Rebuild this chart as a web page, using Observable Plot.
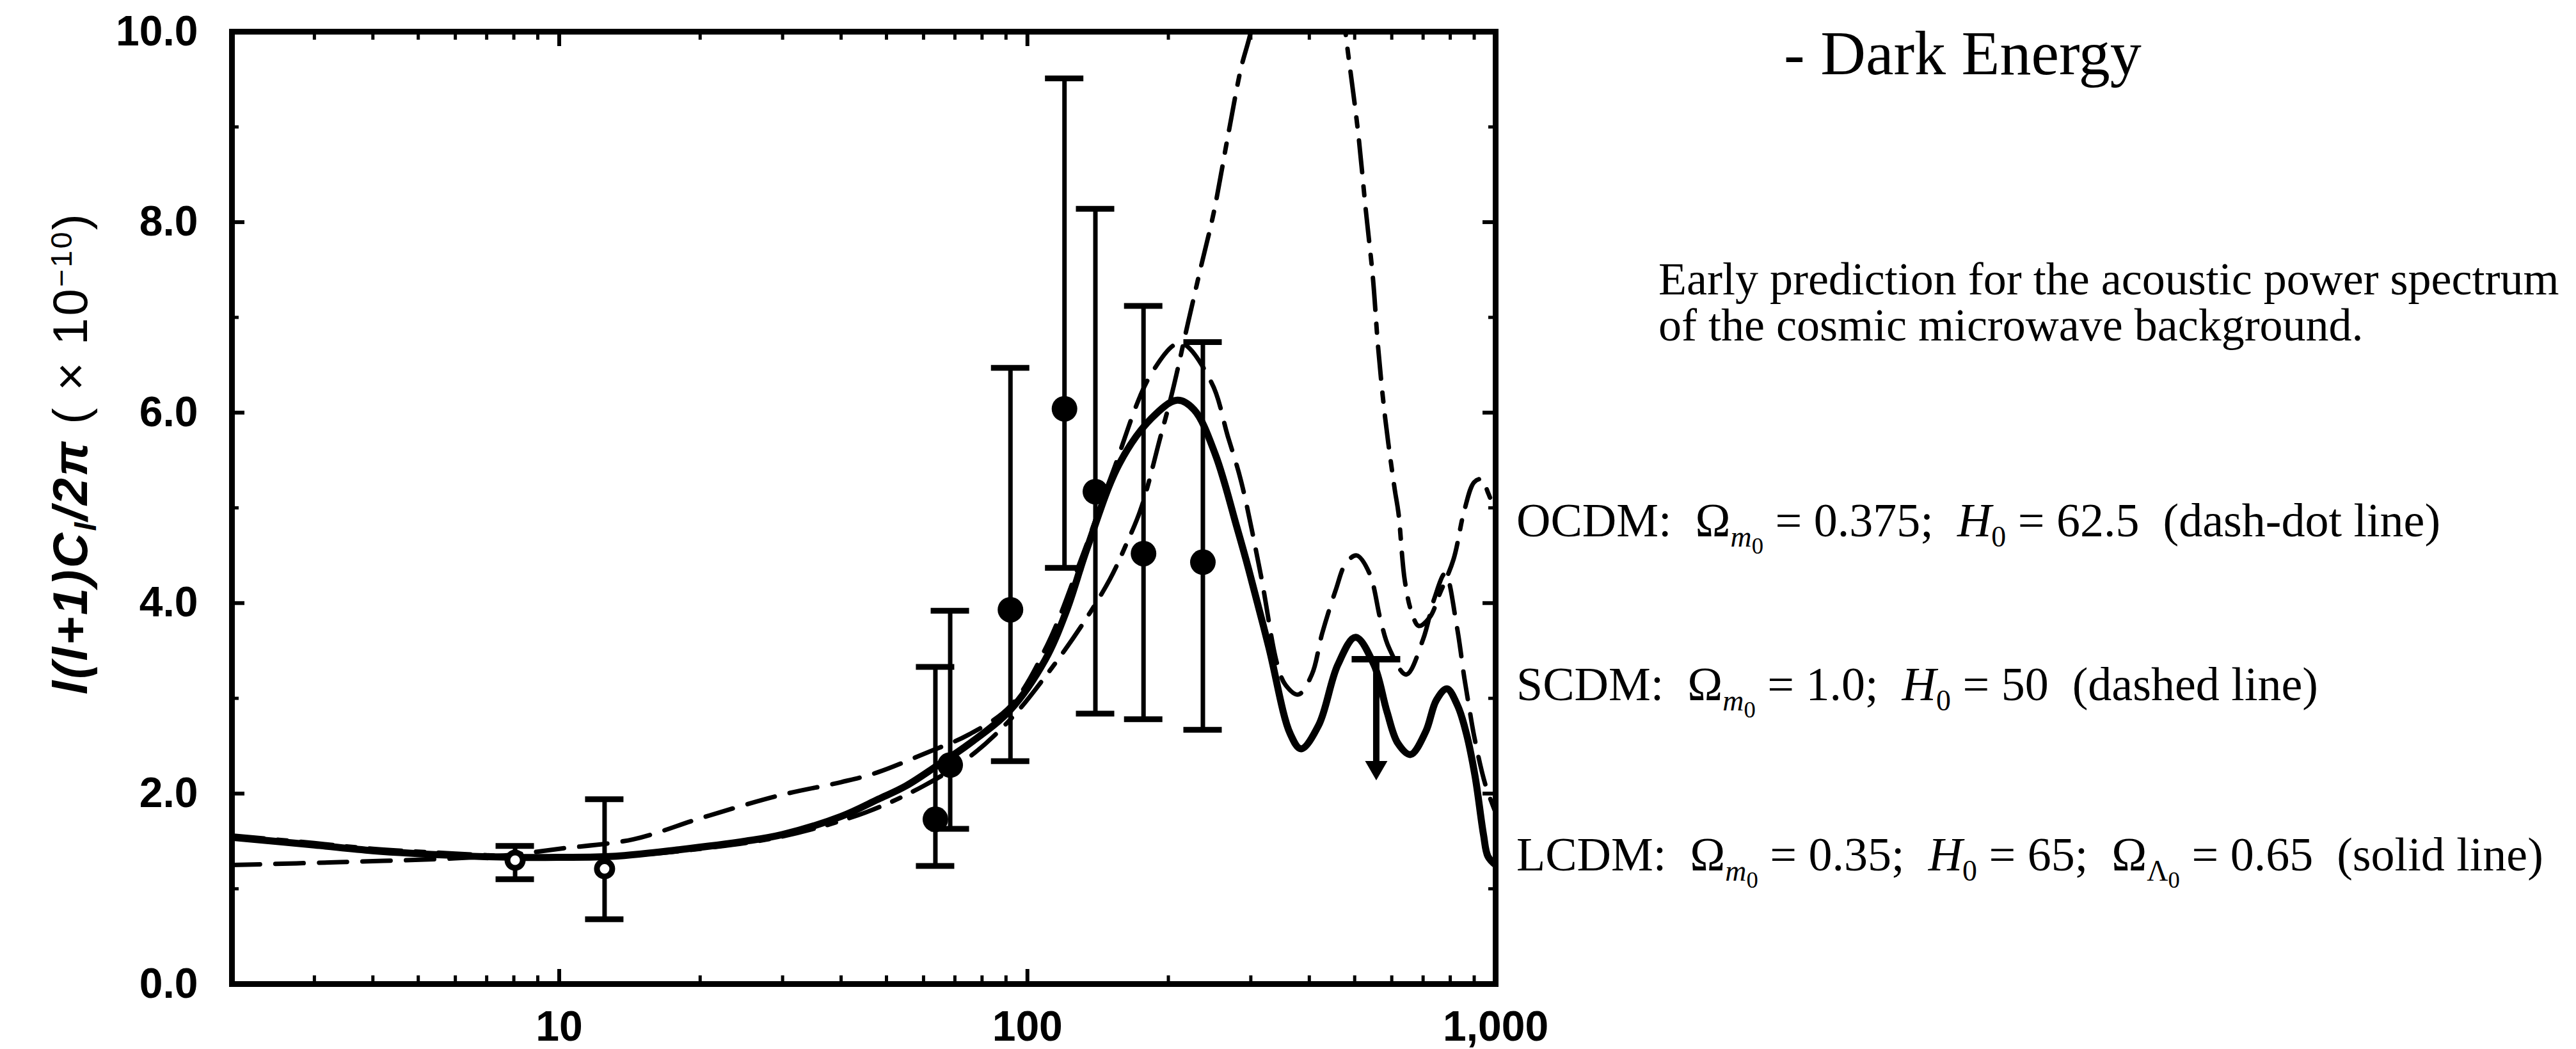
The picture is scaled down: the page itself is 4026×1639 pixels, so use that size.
<!DOCTYPE html>
<html>
<head>
<meta charset="utf-8">
<script src="https://cdn.jsdelivr.net/npm/d3@7"></script>
<script src="https://cdn.jsdelivr.net/npm/@observablehq/plot@0.6"></script>
<style>
html,body{margin:0;padding:0;background:#fff;}
#wrap{position:relative;width:4026px;height:1639px;overflow:hidden;background:#fff;}
#wrap svg{position:absolute;left:0;top:0;}
.t{position:absolute;white-space:nowrap;font-family:"Liberation Serif",serif;color:#000;line-height:1;}
.t sub{font-size:0.62em;vertical-align:-0.34em;line-height:0;}
.t sub sub{font-size:0.8em;vertical-align:-0.3em;}
.ylab{position:absolute;white-space:nowrap;font-family:"Liberation Sans",Arial,sans-serif;font-weight:bold;font-style:italic;color:#000;line-height:1;transform:translate(-50%,-50%) rotate(-90deg);}
.ylab sub{font-size:0.62em;vertical-align:-0.3em;line-height:0;}
.ylab sup{font-size:0.62em;vertical-align:0.5em;line-height:0;}
</style>
</head>
<body>
<div id="wrap"></div>
<script>
// ---------------- data ----------------
// LCDM (solid line)
const lcdmL = [2, 3, 4, 6, 8, 10, 13, 18, 25, 30, 40, 48, 55, 64, 75, 92, 109, 121, 134, 157, 184, 209, 227, 252, 280, 297, 328, 364, 384, 419, 460, 502, 550, 586, 618, 658, 709, 747, 787, 830, 866, 904, 942, 963, 1000];
const lcdmV = [1.54, 1.46, 1.40, 1.35, 1.33, 1.33, 1.34, 1.41, 1.50, 1.57, 1.76, 1.94, 2.08, 2.29, 2.52, 2.88, 3.40, 3.91, 4.57, 5.46, 5.94, 6.13, 6.03, 5.56, 4.80, 4.35, 3.53, 2.63, 2.47, 2.72, 3.35, 3.64, 3.35, 2.86, 2.53, 2.41, 2.65, 2.98, 3.10, 2.92, 2.63, 2.18, 1.57, 1.34, 1.25];
// SCDM (dashed line)
const scdmL = [2, 3.4, 6, 8, 10, 14.4, 20, 29.5, 40, 47.7, 61, 75, 92, 110, 130, 152, 184, 212, 247, 268, 286, 315, 342, 356, 379, 405, 426, 455, 479, 505, 538, 568, 592, 644, 700, 740, 780, 826, 857, 877, 900, 950, 1000];
const scdmV = [1.25, 1.28, 1.32, 1.36, 1.42, 1.52, 1.74, 1.98, 2.12, 2.22, 2.43, 2.62, 2.92, 3.55, 4.45, 5.37, 6.41, 6.73, 6.32, 5.75, 5.28, 4.30, 3.35, 3.14, 3.04, 3.25, 3.68, 4.13, 4.42, 4.50, 4.31, 3.82, 3.53, 3.25, 3.62, 4.05, 4.31, 3.76, 3.22, 2.92, 2.60, 2.10, 1.80];
// OCDM (dash-dot line); NaN marks the part above the plotted range
const ocdmL = [2, 3, 4, 6, 8, 10, 15, 20, 30, 45, 60, 75, 92, 110, 130, 150, 162, 175, 192, 204, 220, 235, 250, 268, 286, 300, 306, 380, 470, 479, 508, 528, 547, 561, 581, 609, 620, 640, 662, 685, 723, 760, 813, 857, 900, 933, 965, 1000];
const ocdmV = [1.56, 1.48, 1.42, 1.37, 1.34, 1.33, 1.36, 1.42, 1.55, 1.80, 2.08, 2.38, 2.78, 3.25, 3.75, 4.25, 4.60, 5.00, 5.73, 6.22, 6.93, 7.54, 8.10, 8.90, 9.62, 10.0, 10.3, NaN, 10.3, 9.95, 8.96, 8.13, 7.41, 6.69, 5.94, 5.19, 4.95, 4.23, 3.90, 3.76, 3.85, 4.10, 4.46, 4.97, 5.27, 5.30, 5.15, 4.95];

// measurements with filled markers
const detL  = [63.6, 68.4, 92, 120, 139.7, 177, 237];
const detV  = [1.73, 2.30, 3.93, 6.04, 5.17, 4.52, 4.43];
const detLo = [1.24, 1.63, 2.34, 4.37, 2.84, 2.78, 2.67];
const detHi = [3.33, 3.92, 6.47, 9.51, 8.14, 7.12, 6.74];
// measurements with open markers
const openL  = [8.05, 12.5];
const openV  = [1.30, 1.21];
const openLo = [1.10, 0.68];
const openHi = [1.45, 1.94];
// upper limit
const ulL = [556];
const ulV = [3.41];
const ulTip = [2.14];

// axes
const yMajor = [0, 2, 4, 6, 8, 10];
const yTickLabels = ["0.0", "2.0", "4.0", "6.0", "8.0", "10.0"];
const yMinor = [1, 3, 5, 7, 9];
const xMajor = [10, 100, 1000];
const xTickLabels = ["10", "100", "1,000"];
const xMinor = [3, 4, 5, 6, 7, 8, 9, 20, 30, 40, 50, 60, 70, 80, 90, 200, 300, 400, 500, 600, 700, 800, 900];

// texts
const titleText = "- Dark Energy";
const captionLines = ["Early prediction for the acoustic power spectrum", "of the cosmic microwave background."];

// ---------------- build ----------------
const lcdm = lcdmL.map((l, i) => ({l, v: lcdmV[i]}));
const scdm = scdmL.map((l, i) => ({l, v: scdmV[i]}));
const ocdm = ocdmL.map((l, i) => ({l, v: ocdmV[i]}));
const det = detL.map((l, i) => ({l, v: detV[i], lo: detLo[i], hi: detHi[i]}));
const opn = openL.map((l, i) => ({l, v: openV[i], lo: openLo[i], hi: openHi[i]}));
const bars = det.concat(opn);
const ul = ulL.map((l, i) => ({l, v: ulV[i], tip: ulTip[i]}));

const W = 4026, H = 1639;
const mL = 362, mR = W - 2337, mT = 49, mB = H - 1537;
const xDom = [2, 1000], yDom = [0, 10];
const pxDec = (W - mL - mR) / Math.log10(xDom[1] / xDom[0]);
const pxUnit = (H - mT - mB) / (yDom[1] - yDom[0]);
const fx = px => Math.pow(10, px / pxDec);
const capF = fx(30);
const ulCapF = fx(38);

const chart = Plot.plot({
  width: W, height: H,
  marginLeft: mL, marginRight: mR, marginTop: mT, marginBottom: mB,
  x: {type: "log", domain: xDom},
  y: {domain: yDom},
  style: {fontFamily: "Liberation Sans, Arial, sans-serif", background: "#fff", color: "#000"},
  marks: [
    Plot.line(ocdm, {x: "l", y: "v", stroke: "#000", strokeWidth: 7, strokeDasharray: "50,22,14,22", curve: "catmull-rom", clip: true}),
    Plot.line(scdm, {x: "l", y: "v", stroke: "#000", strokeWidth: 7, strokeDasharray: "44,24", curve: "catmull-rom", clip: true}),
    Plot.line(lcdm, {x: "l", y: "v", stroke: "#000", strokeWidth: 11, curve: "catmull-rom", clip: true}),
    // error bars
    Plot.ruleX(bars, {x: "l", y1: "lo", y2: "hi", stroke: "#000", strokeWidth: 7}),
    Plot.ruleY(bars, {y: "hi", x1: d => d.l / capF, x2: d => d.l * capF, stroke: "#000", strokeWidth: 9}),
    Plot.ruleY(bars, {y: "lo", x1: d => d.l / capF, x2: d => d.l * capF, stroke: "#000", strokeWidth: 9}),
    Plot.dot(det, {x: "l", y: "v", r: 20, fill: "#000"}),
    Plot.dot(opn, {x: "l", y: "v", r: 12, fill: "#fff", stroke: "#000", strokeWidth: 9}),
    // upper limit
    Plot.ruleY(ul, {y: "v", x1: d => d.l / ulCapF, x2: d => d.l * ulCapF, stroke: "#000", strokeWidth: 10}),
    Plot.ruleX(ul, {x: "l", y1: "v", y2: "tip", insetBottom: 16, stroke: "#000", strokeWidth: 10}),
    Plot.dot(ul, {x: "l", y: "tip", symbol: "triangle", rotate: 180, r: 13, fill: "#000", dy: -20}),
    // inward ticks, left & right
    Plot.ruleY(yMajor.slice(1, -1), {x1: xDom[0], x2: xDom[0] * fx(20), stroke: "#000", strokeWidth: 6}),
    Plot.ruleY(yMinor, {x1: xDom[0], x2: xDom[0] * fx(11), stroke: "#000", strokeWidth: 5}),
    Plot.ruleY(yMajor.slice(1, -1), {x1: xDom[1] / fx(20), x2: xDom[1], stroke: "#000", strokeWidth: 6}),
    Plot.ruleY(yMinor, {x1: xDom[1] / fx(11), x2: xDom[1], stroke: "#000", strokeWidth: 5}),
    // inward ticks, bottom & top
    Plot.ruleX(xMajor.slice(0, -1), {y1: yDom[0], y2: yDom[0] + 23 / pxUnit, stroke: "#000", strokeWidth: 6}),
    Plot.ruleX(xMinor, {y1: yDom[0], y2: yDom[0] + 13 / pxUnit, stroke: "#000", strokeWidth: 5}),
    Plot.ruleX(xMajor.slice(0, -1), {y1: yDom[1] - 23 / pxUnit, y2: yDom[1], stroke: "#000", strokeWidth: 6}),
    Plot.ruleX(xMinor, {y1: yDom[1] - 13 / pxUnit, y2: yDom[1], stroke: "#000", strokeWidth: 5}),
    Plot.frame({stroke: "#000", strokeWidth: 9}),
    Plot.axisX({ticks: xMajor, tickSize: 0, tickPadding: 42, label: null,
      tickFormat: d => xTickLabels[xMajor.indexOf(d)], fontSize: 66, fontWeight: "bold"}),
    Plot.axisY({ticks: yMajor, tickSize: 0, tickPadding: 53, label: null,
      tickFormat: d => yTickLabels[yMajor.indexOf(d)], fontSize: 66, fontWeight: "bold"})
  ]
});

const wrap = document.getElementById("wrap");
wrap.appendChild(chart);

function addText(html, x, baseline, fs, extra) {
  const d = document.createElement("div");
  d.className = "t";
  d.style.left = x + "px";
  d.style.top = (baseline - 0.8375 * fs) + "px";
  d.style.fontSize = fs + "px";
  if (extra) Object.assign(d.style, extra);
  d.innerHTML = html;
  wrap.appendChild(d);
}

addText(titleText, 2788, 116, 98);
addText(captionLines[0], 2592, 460, 72);
addText(captionLines[1], 2592, 532, 72);

const sp = "&nbsp;";
addText(`OCDM:${sp} Ω<sub><i>m</i><sub>0</sub></sub> = 0.375;${sp} <i>H</i><sub>0</sub> = 62.5${sp} (dash-dot line)`, 2370, 838, 74);
addText(`SCDM:${sp} Ω<sub><i>m</i><sub>0</sub></sub> = 1.0;${sp} <i>H</i><sub>0</sub> = 50${sp} (dashed line)`, 2370, 1094, 74);
addText(`LCDM:${sp} Ω<sub><i>m</i><sub>0</sub></sub> = 0.35;${sp} <i>H</i><sub>0</sub> = 65;${sp} Ω<sub>Λ<sub>0</sub></sub> = 0.65${sp} (solid line)`, 2370, 1360, 74);

const yl = document.createElement("div");
yl.className = "ylab";
yl.style.left = "110px";
yl.style.top = "708px";
yl.style.fontSize = "76px";
yl.style.letterSpacing = "3px";
yl.innerHTML = `l(l+1)C<sub>l</sub>/2π <span style="font-weight:normal;font-style:normal">( × 10<sup>−10</sup>)</span>`;
wrap.appendChild(yl);
</script>
</body>
</html>
